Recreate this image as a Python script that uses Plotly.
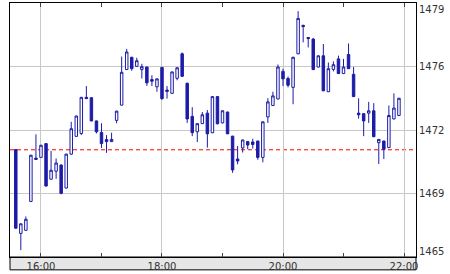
import pandas as pd
import plotly.graph_objects as go

# 5-minute candles, 15:35 .. 21:55
times = pd.date_range("2024-01-05 15:35", periods=77, freq="5min")

opens = [1470.92, 1466.30, 1466.47, 1468.06, 1470.45, 1470.49, 1471.25, 1469.29, 1469.73, 1470.07,
         1468.80, 1470.67, 1471.65, 1471.81, 1473.80, 1473.78, 1472.50, 1471.86, 1471.47, 1471.36,
         1472.53, 1473.37, 1475.33, 1476.01, 1475.51, 1475.33, 1475.47, 1474.78, 1474.38, 1475.45,
         1474.20, 1474.02, 1474.85, 1476.20, 1474.58, 1472.75, 1471.90, 1472.35, 1472.93, 1471.85,
         1473.84, 1472.39, 1472.99, 1471.66, 1470.40, 1471.01, 1471.36, 1471.34, 1471.39, 1470.49,
         1472.72, 1473.35, 1473.71, 1475.23, 1474.84, 1474.35, 1476.20, 1477.77, 1477.10, 1477.01,
         1475.47, 1476.09, 1474.11, 1475.34, 1475.92, 1475.11, 1476.16, 1475.07, 1472.93, 1472.90,
         1472.93, 1473.06, 1471.30, 1471.39, 1471.03, 1472.61, 1472.80]
highs = [1470.95, 1466.85, 1467.23, 1470.63, 1471.76, 1471.18, 1471.27, 1470.85, 1470.43, 1470.10,
         1470.69, 1472.45, 1472.79, 1473.82, 1474.42, 1473.80, 1472.52, 1472.37, 1471.72, 1471.85,
         1473.06, 1476.05, 1476.47, 1476.03, 1475.98, 1475.65, 1475.49, 1475.02, 1474.84, 1475.47,
         1474.42, 1475.22, 1475.45, 1476.27, 1474.60, 1473.26, 1472.37, 1472.99, 1473.10, 1473.86,
         1473.86, 1473.08, 1473.01, 1471.68, 1471.12, 1471.47, 1471.38, 1471.52, 1471.41, 1472.47,
         1473.75, 1474.11, 1475.61, 1475.38, 1474.95, 1476.03, 1478.55, 1477.80, 1477.12, 1477.07,
         1476.11, 1476.74, 1475.72, 1475.78, 1476.10, 1475.92, 1476.77, 1475.47, 1473.75, 1472.92,
         1473.55, 1473.48, 1471.50, 1471.41, 1473.35, 1474.02, 1473.77]
lows = [1466.55, 1465.38, 1466.45, 1468.04, 1470.35, 1470.47, 1468.89, 1469.27, 1469.31, 1468.46,
        1468.78, 1470.65, 1471.63, 1471.72, 1473.71, 1472.48, 1471.81, 1471.01, 1470.74, 1471.34,
        1472.37, 1473.35, 1475.31, 1475.27, 1475.49, 1474.84, 1474.43, 1474.42, 1474.11, 1473.66,
        1473.73, 1474.00, 1474.74, 1474.94, 1472.39, 1471.66, 1471.34, 1472.33, 1471.03, 1471.83,
        1472.32, 1472.37, 1471.77, 1469.64, 1470.11, 1470.76, 1470.94, 1470.98, 1470.36, 1470.22,
        1472.39, 1473.33, 1473.69, 1474.42, 1474.35, 1473.42, 1476.18, 1476.83, 1476.55, 1475.31,
        1475.45, 1474.14, 1474.09, 1475.23, 1475.09, 1475.09, 1475.36, 1473.82, 1472.63, 1471.66,
        1472.39, 1471.61, 1470.13, 1470.40, 1471.01, 1472.59, 1472.78]
closes = [1466.59, 1466.83, 1467.08, 1470.61, 1470.38, 1471.16, 1468.91, 1469.78, 1470.18, 1468.51,
          1470.67, 1472.07, 1472.77, 1473.80, 1473.73, 1472.50, 1471.90, 1471.25, 1471.36, 1471.48,
          1473.04, 1475.18, 1476.30, 1475.38, 1475.82, 1475.49, 1474.60, 1474.69, 1474.82, 1473.73,
          1474.13, 1475.20, 1475.43, 1474.96, 1472.61, 1471.85, 1472.35, 1472.84, 1471.79, 1473.84,
          1472.34, 1473.06, 1471.79, 1469.80, 1470.29, 1471.45, 1471.17, 1471.20, 1470.49, 1472.45,
          1473.55, 1473.88, 1475.47, 1474.82, 1474.47, 1476.01, 1478.15, 1477.70, 1477.04, 1475.33,
          1476.09, 1474.16, 1475.38, 1475.60, 1475.11, 1475.47, 1475.38, 1473.84, 1472.84, 1472.50,
          1473.06, 1471.63, 1471.48, 1470.94, 1472.80, 1473.21, 1473.75]

prev_close = 1470.91

y_tick_values = [1465, 1468.5, 1472, 1475.5, 1479]
y_tick_labels = ["1465", "1469", "1472", "1476", "1479"]

FONT = "DejaVu Sans"
BLUE = "#1c1ca8"

fig = go.Figure()
fig.add_trace(go.Candlestick(
    x=times, open=opens, high=highs, low=lows, close=closes,
    increasing=dict(line=dict(color=BLUE, width=1), fillcolor="white"),
    decreasing=dict(line=dict(color=BLUE, width=1), fillcolor=BLUE),
    whiskerwidth=0, showlegend=False, hoverinfo="skip",
))

shapes = [
    # grey band under the plot holding the time labels
    dict(type="rect", xref="paper", yref="paper", x0=0, x1=1, y0=-13 / 257, y1=0,
         fillcolor="#e6e6e6", line=dict(color="#000000", width=1), layer="below"),
    # previous close reference line
    dict(type="line", xref="paper", yref="y", x0=0, x1=1, y0=prev_close, y1=prev_close,
         line=dict(color="#ff0000", width=1, dash="4px,3px"), layer="below"),
]

annotations = []
n = len(y_tick_values)
for i, (v, t) in enumerate(zip(y_tick_values, y_tick_labels)):
    shift = 6 if i == 0 else (-6 if i == n - 1 else 0)
    annotations.append(dict(x=1, xref="paper", y=v, yref="y", text=t, showarrow=False,
                            xanchor="left", yanchor="middle", xshift=1, yshift=shift,
                            font=dict(family=FONT, size=10, color="#333333")))

fig.update_layout(
    width=450, height=274,
    margin=dict(l=10, r=34, t=2, b=15),
    paper_bgcolor="white", plot_bgcolor="white",
    shapes=shapes, annotations=annotations,
    xaxis=dict(
        type="date",
        range=["2024-01-05 15:29:16", "2024-01-05 22:11:54"],
        rangeslider=dict(visible=False),
        tick0="2024-01-05 16:00", dtick=2 * 3600000, tickformat="%H:%M",
        showgrid=True, gridcolor="#c8c8c8", gridwidth=1,
        ticks="inside", ticklen=4, tickcolor="#444444",
        minor=dict(dtick=3600000, tick0="2024-01-05 16:00", ticks="inside", ticklen=4,
                   tickcolor="#444444", showgrid=False),
        showline=True, linecolor="#000000", linewidth=1, mirror="allticks",
        tickfont=dict(family=FONT, size=10, color="#333333"),
        zeroline=False,
    ),
    yaxis=dict(
        range=[1465, 1479], side="right",
        tickvals=y_tick_values, showticklabels=False,
        showgrid=True, gridcolor="#c8c8c8", gridwidth=1,
        showline=True, linecolor="#000000", linewidth=1, mirror=True,
        zeroline=False, ticks="",
    ),
)

fig.write_html("out.html")
